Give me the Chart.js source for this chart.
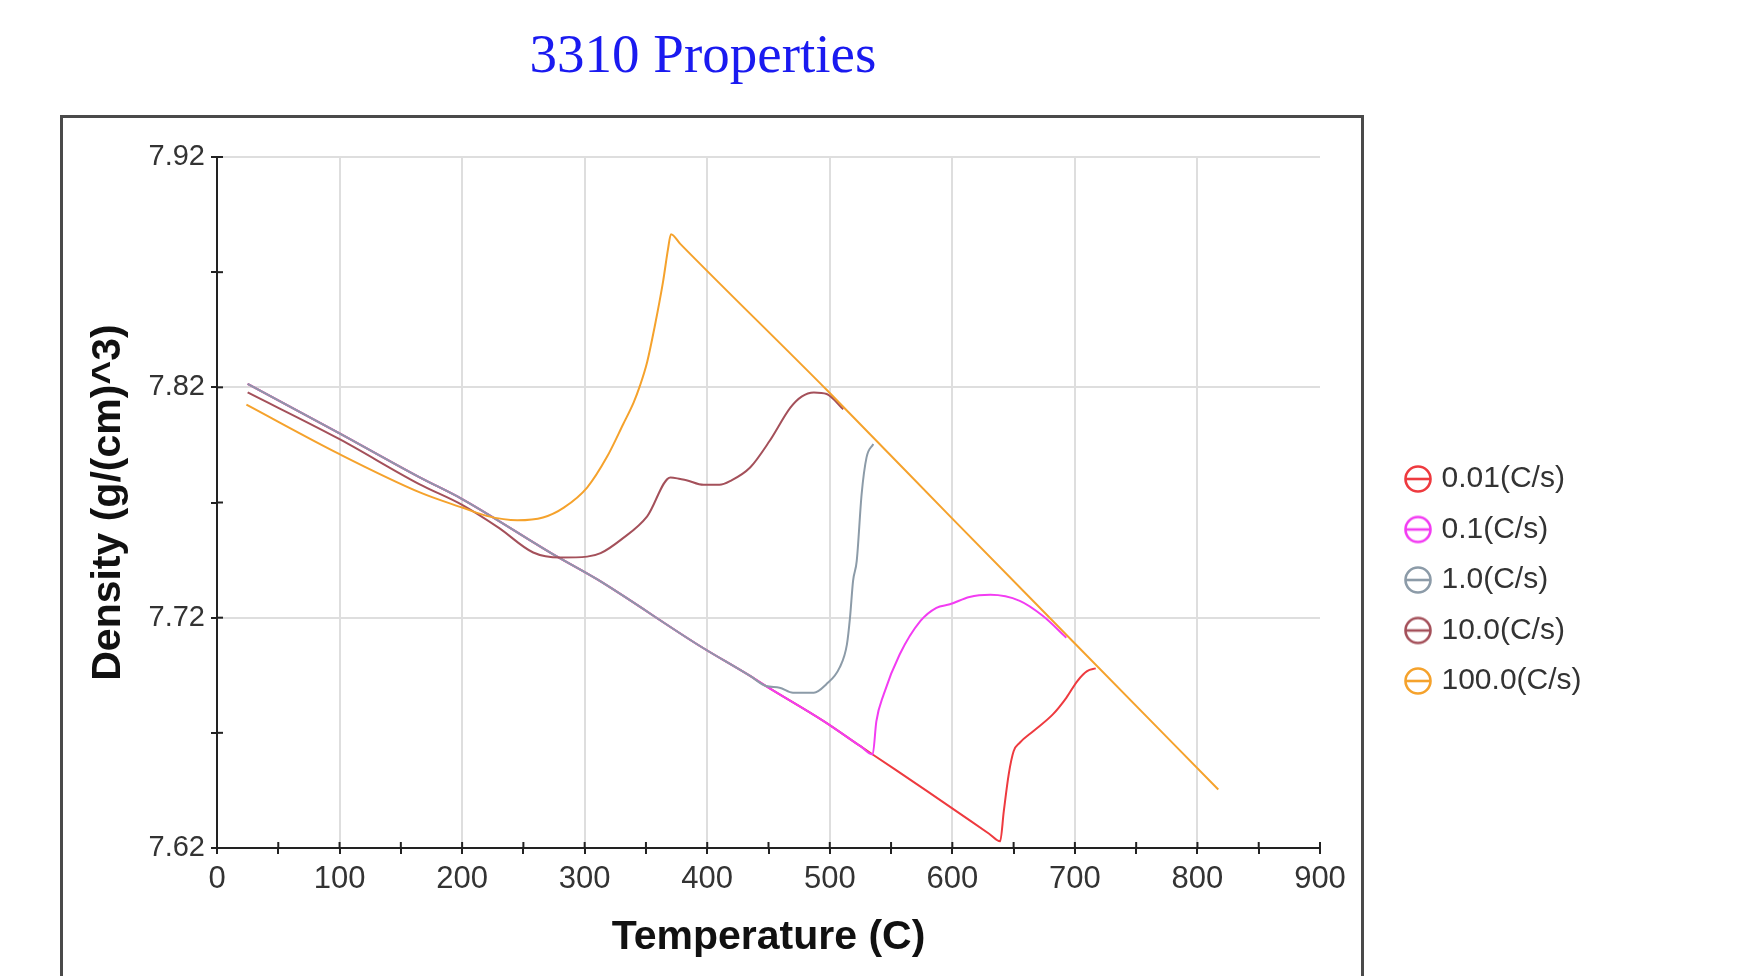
<!DOCTYPE html>
<html>
<head>
<meta charset="utf-8">
<title>3310 Properties</title>
<script src="https://cdn.jsdelivr.net/npm/chart.js@4.4.1/dist/chart.umd.min.js"></script>
<style>
  html, body { margin: 0; padding: 0; background: #fff; overflow: hidden; }
  #frame { position: absolute; left: 60px; top: 115px; width: 1304px; height: 900px; border: 3px solid #4a4a4a; box-sizing: border-box; }
  #wrap { position: absolute; left: 0; top: 0; width: 1762px; height: 976px; }
</style>
</head>
<body>
<div id="frame"></div>
<div id="wrap"><canvas id="densityChart"></canvas></div>
<script>
// cooling rates and their colours
const rateLabels = ['0.01(C/s)', '0.1(C/s)', '1.0(C/s)', '10.0(C/s)', '100.0(C/s)'];
const rateColors = ['#ee3a3f', '#f23cf2', '#8c9ba8', '#a4505a', '#f5a22c'];

// straight cooling line shared by the slow rates (temperature C, density g/cm^3)
const baseT = [25, 100, 165, 200, 274, 310, 394, 435, 448, 495, 525, 535, 580, 630, 639];
const baseD = [7.8215, 7.8000, 7.7810, 7.7715, 7.7476, 7.7367, 7.7077, 7.6947, 7.6903, 7.6751, 7.6642, 7.6606, 7.6445, 7.6262, 7.6229];

// 0.01 C/s rise after 639 C
const redT = [642, 646, 650, 655, 666, 682, 693, 702, 710, 717];
const redD = [7.6360, 7.6520, 7.6620, 7.6657, 7.6707, 7.6780, 7.6852, 7.6925, 7.6968, 7.6980];

// 0.1 C/s arc after 535 C
const pinkT = [538, 544, 557, 574, 587, 598, 614, 631, 655, 674, 693];
const pinkD = [7.6750, 7.6867, 7.7040, 7.7186, 7.7243, 7.7258, 7.7290, 7.7299, 7.7273, 7.7207, 7.7113];

// 1.0 C/s jump after 448 C
const grayT = [459, 470, 487, 497, 508, 514, 516.5, 519, 522, 526, 530, 535.5];
const grayD = [7.6896, 7.6874, 7.6874, 7.6910, 7.6983, 7.7084, 7.7200, 7.7360, 7.7447, 7.7737, 7.7896, 7.7954];

// 10.0 C/s
const brownT = [25, 100, 165, 200, 230, 258, 280, 302, 313, 330, 351, 370, 378, 383, 397, 410, 419, 435, 451, 468, 477, 487, 497.5, 511];
const brownD = [7.8178, 7.7975, 7.7780, 7.7690, 7.7590, 7.7483, 7.7461, 7.7465, 7.7480, 7.7540, 7.7640, 7.7809, 7.7802, 7.7797, 7.7777, 7.7777, 7.7794, 7.7852, 7.7968, 7.8113, 7.8160, 7.8178, 7.8171, 7.8105];

// 100.0 C/s
const orangeT = [24, 100, 166, 200, 220, 245, 266, 283, 302, 318, 331.5, 340, 345, 351, 357, 364, 368, 370.4, 378, 498, 600, 700, 817];
const orangeD = [7.8125, 7.7910, 7.7743, 7.7678, 7.7642, 7.7623, 7.7635, 7.7678, 7.7765, 7.7896, 7.8041, 7.8135, 7.8205, 7.8310, 7.8460, 7.8660, 7.8800, 7.8865, 7.8823, 7.8186, 7.7630, 7.7088, 7.6454];

// axis ticks
const xTicks = [0, 50, 100, 150, 200, 250, 300, 350, 400, 450, 500, 550, 600, 650, 700, 750, 800, 850, 900];
const xLabels = [0, 100, 200, 300, 400, 500, 600, 700, 800, 900];
const yTicks = [7.62, 7.67, 7.72, 7.77, 7.82, 7.87, 7.92];
const yLabels = [7.62, 7.72, 7.82, 7.92];

function toPoints(ts, ds) {
  return ts.map((t, i) => ({ x: t, y: ds[i] }));
}

const series = [
  toPoints(baseT.concat(redT), baseD.concat(redD)),
  toPoints(baseT.slice(0, 12).concat(pinkT), baseD.slice(0, 12).concat(pinkD)),
  toPoints(baseT.slice(0, 9).concat(grayT), baseD.slice(0, 9).concat(grayD)),
  toPoints(brownT, brownD),
  toPoints(orangeT, orangeD)
];

// little circle-with-bar legend markers
function makeIcon(color) {
  const c = document.createElement('canvas');
  c.width = 30; c.height = 30;
  const g = c.getContext('2d');
  g.strokeStyle = color;
  g.lineWidth = 2.6;
  g.beginPath();
  g.arc(15, 15, 12.5, 0, Math.PI * 2);
  g.stroke();
  g.beginPath();
  g.moveTo(2.5, 15);
  g.lineTo(27.5, 15);
  g.stroke();
  return c;
}
const legendIcons = rateColors.map(makeIcon);

const isOn = (v, list) => list.some(m => Math.abs(m - v) < 1e-6);

// ticks crossing the axis lines like the original
const crossTicks = {
  id: 'crossTicks',
  afterDraw(chart) {
    const { ctx, chartArea } = chart;
    const xs = chart.scales.x, ys = chart.scales.y;
    ctx.save();
    ctx.strokeStyle = '#222';
    ctx.lineWidth = 2;
    xs.ticks.forEach(t => {
      const px = xs.getPixelForValue(t.value);
      ctx.beginPath();
      ctx.moveTo(px, chartArea.bottom);
      ctx.lineTo(px, chartArea.bottom - 6);
      ctx.stroke();
    });
    ys.ticks.forEach(t => {
      const py = ys.getPixelForValue(t.value);
      ctx.beginPath();
      ctx.moveTo(chartArea.left, py);
      ctx.lineTo(chartArea.left + 6, py);
      ctx.stroke();
    });
    ctx.restore();
  }
};

// title over the framed box, legend outside it
const placeBoxes = {
  id: 'placeBoxes',
  afterLayout(chart) {
    const lg = chart.legend;
    lg.left = 1389;
    lg.width = 300;
    lg.right = lg.left + lg.width;
    lg.top = 443.5;
    lg.bottom = lg.top + lg.height;
    const tb = chart.titleBlock;
    tb.left = 403;
    tb.right = 1003;
  }
};

Chart.defaults.font.family = "'Liberation Sans', Arial, sans-serif";

const ctx = document.getElementById('densityChart').getContext('2d');
new Chart(ctx, {
  type: 'line',
  data: {
    datasets: series.map((pts, i) => ({
      label: rateLabels[i],
      data: pts,
      borderColor: rateColors[i],
      backgroundColor: rateColors[i],
      borderWidth: 2,
      pointRadius: 0,
      cubicInterpolationMode: 'monotone',
      fill: false,
      order: 4 - i
    }))
  },
  options: {
    responsive: true,
    maintainAspectRatio: false,
    animation: false,
    events: [],
    layout: { padding: { left: 0, right: 292, top: 0, bottom: 14 } },
    plugins: {
      tooltip: { enabled: false },
      title: {
        display: true,
        text: '3310 Properties',
        color: '#1a1af0',
        font: { family: "'Liberation Serif', 'Times New Roman', serif", size: 55, weight: 'normal' },
        padding: { top: 25, bottom: 66 }
      },
      legend: {
        position: 'right',
        align: 'start',
        maxWidth: 150,
        labels: {
          usePointStyle: true,
          pointStyleWidth: 17,
          padding: 20.5,
          color: '#333',
          font: { size: 30 },
          sort: (a, b) => a.datasetIndex - b.datasetIndex,
          generateLabels(chart) {
            const items = Chart.defaults.plugins.legend.labels.generateLabels(chart);
            items.forEach(it => { it.pointStyle = legendIcons[it.datasetIndex]; });
            return items;
          }
        }
      }
    },
    scales: {
      x: {
        type: 'linear',
        min: 0,
        max: 900,
        afterBuildTicks: s => { s.ticks = xTicks.map(v => ({ value: v })); },
        afterFit: s => { s.height = 114; },
        ticks: {
          autoSkip: false,
          maxRotation: 0,
          padding: 7,
          color: '#333',
          font: { size: 31 },
          callback: v => isOn(v, xLabels) ? String(v) : ''
        },
        grid: {
          color: c => (c.tick && c.tick.value > 0 && c.tick.value < 900 && c.tick.value % 100 === 0) ? '#dedede' : 'rgba(0,0,0,0)',
          lineWidth: 2,
          tickColor: '#222',
          tickLength: 6,
          tickWidth: 2
        },
        border: { color: '#222', width: 2 },
        title: {
          display: true,
          text: 'Temperature (C)',
          color: '#111',
          font: { size: 41, weight: 'bold' },
          padding: { top: 0, bottom: 0 }
        }
      },
      y: {
        type: 'linear',
        min: 7.62,
        max: 7.92,
        afterBuildTicks: s => { s.ticks = yTicks.map(v => ({ value: v })); },
        afterFit: s => { s.width = 217; },
        ticks: {
          autoSkip: false,
          padding: 6,
          color: '#333',
          font: { size: 29 },
          callback: v => isOn(v, yLabels) ? v.toFixed(2) : ''
        },
        grid: {
          color: c => (c.tick && isOn(c.tick.value, [7.72, 7.82, 7.92])) ? '#dedede' : 'rgba(0,0,0,0)',
          lineWidth: 2,
          tickColor: '#222',
          tickLength: 6,
          tickWidth: 2
        },
        border: { color: '#222', width: 2 },
        title: {
          display: true,
          text: 'Density (g/(cm)^3)',
          color: '#111',
          font: { size: 41, weight: 'bold' },
          padding: { top: 84, bottom: 0 }
        }
      }
    }
  },
  plugins: [crossTicks, placeBoxes]
});
</script>
</body>
</html>
